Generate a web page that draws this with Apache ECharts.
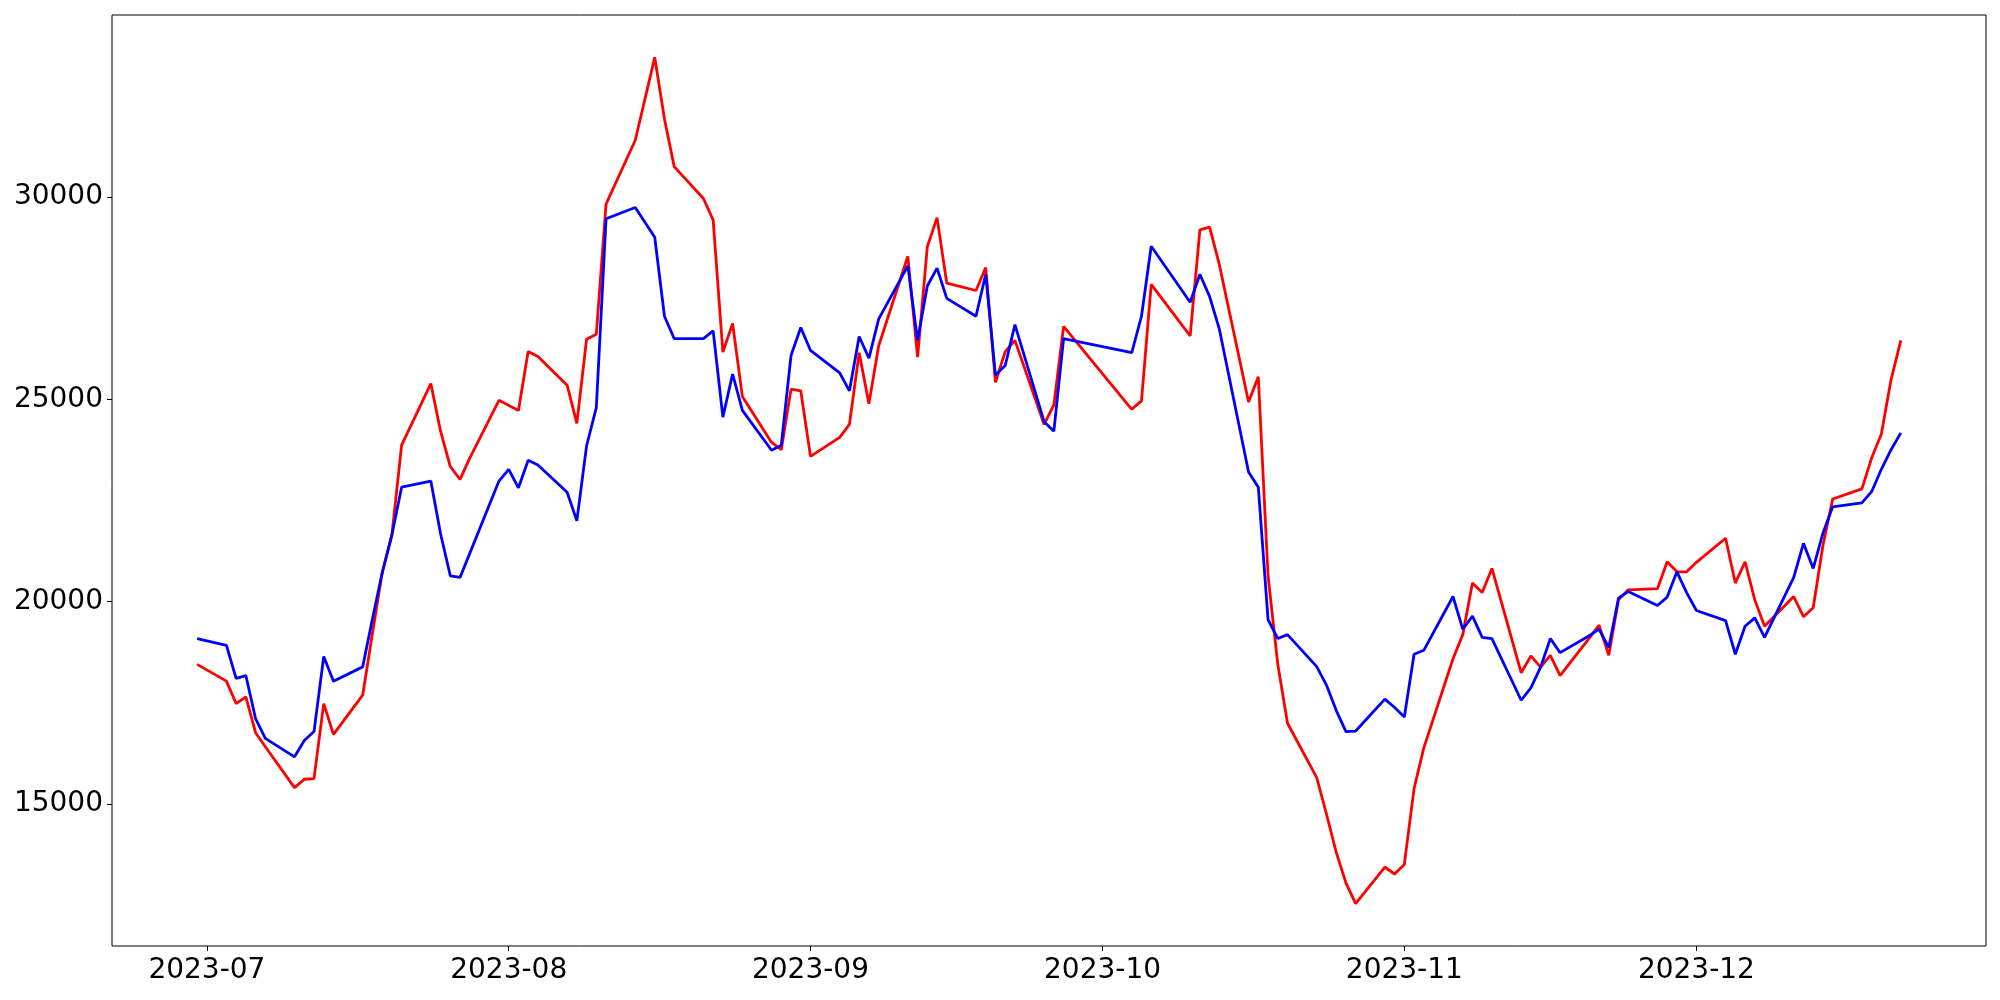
<!DOCTYPE html>
<html><head><meta charset="utf-8">
<script src="https://cdn.jsdelivr.net/npm/echarts@6/dist/echarts.min.js"></script>
<style>html,body{margin:0;padding:0;background:#fff}#c{width:2000px;height:1000px}</style>
</head><body><div id="c"></div>
<script>
// Trading days (Korean market calendar, 2023)
const dates = [
'2023-06-30',
'2023-07-03','2023-07-04','2023-07-05','2023-07-06','2023-07-07',
'2023-07-10','2023-07-11','2023-07-12','2023-07-13','2023-07-14',
'2023-07-17','2023-07-18','2023-07-19','2023-07-20','2023-07-21',
'2023-07-24','2023-07-25','2023-07-26','2023-07-27','2023-07-28',
'2023-07-31','2023-08-01','2023-08-02','2023-08-03','2023-08-04',
'2023-08-07','2023-08-08','2023-08-09','2023-08-10','2023-08-11',
'2023-08-14','2023-08-16','2023-08-17','2023-08-18',
'2023-08-21','2023-08-22','2023-08-23','2023-08-24','2023-08-25',
'2023-08-28','2023-08-29','2023-08-30','2023-08-31','2023-09-01',
'2023-09-04','2023-09-05','2023-09-06','2023-09-07','2023-09-08',
'2023-09-11','2023-09-12','2023-09-13','2023-09-14','2023-09-15',
'2023-09-18','2023-09-19','2023-09-20','2023-09-21','2023-09-22',
'2023-09-25','2023-09-26','2023-09-27',
'2023-10-04','2023-10-05','2023-10-06',
'2023-10-10','2023-10-11','2023-10-12','2023-10-13',
'2023-10-16','2023-10-17','2023-10-18','2023-10-19','2023-10-20',
'2023-10-23','2023-10-24','2023-10-25','2023-10-26','2023-10-27',
'2023-10-30','2023-10-31','2023-11-01','2023-11-02','2023-11-03',
'2023-11-06','2023-11-07','2023-11-08','2023-11-09','2023-11-10',
'2023-11-13','2023-11-14','2023-11-15','2023-11-16','2023-11-17',
'2023-11-20','2023-11-21','2023-11-22','2023-11-23','2023-11-24',
'2023-11-27','2023-11-28','2023-11-29','2023-11-30','2023-12-01',
'2023-12-04','2023-12-05','2023-12-06','2023-12-07','2023-12-08',
'2023-12-11','2023-12-12','2023-12-13','2023-12-14','2023-12-15',
'2023-12-18','2023-12-19','2023-12-20','2023-12-21','2023-12-22'
];

const redValues = [
18452,
18037,17483,17649,16762,16416,
15404,15612,15626,17483,16720,
17690,19215,20711,21653,23870,
25394,24216,23343,23025,23551,
24979,24854,24729,26184,26060,
25353,24410,26489,26613,29828,
31408,33458,31934,30756,
29967,29440,26170,26877,25075,
23939,23759,25256,25214,23593,
24064,24383,26156,24895,26323,
28540,26045,28775,29496,27874,
27694,28262,25422,26184,26461,
24383,24868,26808,
24757,24965,27847,
26572,29191,29260,28332,
24937,25560,20642,18453,16997,
15653,14753,13811,13049,12536,
13437,13270,13506,15380,16388,
18591,19187,20462,20226,20822,
18245,18660,18383,18674,18175,
19100,19422,18674,20046,20295,
20323,20988,20739,20739,20974,
21570,20462,20988,20046,19394,
20129,19630,19852,21390,22540,
22789,23551,24147,25491,26461
];

const blueValues = [
19090,
18924,18106,18175,17109,16624,
16166,16568,16790,18647,18037,
18390,19575,20711,21653,22831,
22983,21681,20642,20600,21196,
22983,23274,22817,23496,23380,
22706,22000,23856,24798,29468,
29745,29011,27057,26503,
26503,26697,24563,25630,24729,
23745,23870,26087,26780,26212,
25658,25214,26558,26018,26988,
28304,26461,27805,28248,27500,
27057,28096,25602,25838,26849,
24452,24216,26503,
26156,27057,28789,
27403,28096,27542,26738,
23205,22831,19561,19090,19187,
18397,17940,17316,16790,16803,
17593,17385,17150,18702,18799,
20129,19325,19644,19118,19090,
17565,17870,18383,19090,18743,
19160,19325,18868,20087,20254,
19907,20115,20739,20226,19783,
19533,18702,19394,19602,19118,
20600,21445,20822,21694,22346,
22443,22720,23274,23759,24175
];

const yTicks = [15000, 20000, 25000, 30000];
const xTicks = ['2023-07-01','2023-08-01','2023-09-01','2023-10-01','2023-11-01','2023-12-01'];

const ts = dates.map(d => Date.parse(d + 'T00:00:00Z'));
const xTickTs = xTicks.map(d => Date.parse(d + 'T00:00:00Z'));

const allVals = redValues.concat(blueValues);
const vMin = Math.min(...allVals), vMax = Math.max(...allVals);
const vPad = (vMax - vMin) * 0.05;
const tMin = ts[0], tMax = ts[ts.length - 1];
const tPad = (tMax - tMin) * 0.05;

const redData = ts.map((t, i) => [t, redValues[i]]);
const blueData = ts.map((t, i) => [t, blueValues[i]]);

const FONT = 'DejaVu Sans';
const chart = echarts.init(document.getElementById('c'), null, {renderer: 'canvas'});
chart.setOption({
  animation: false,
  backgroundColor: '#ffffff',
  grid: {left: 112, right: 14, top: 15, bottom: 54, show: true, borderColor: '#000', borderWidth: 1, backgroundColor: 'transparent'},
  xAxis: {
    type: 'value',
    min: tMin - tPad,
    max: tMax + tPad,
    splitLine: {show: false},
    axisLine: {show: false},
    axisTick: {show: true, length: 5, lineStyle: {color: '#000', width: 1}, customValues: xTickTs},
    axisLabel: {
      customValues: xTickTs,
      color: '#000', fontFamily: FONT, fontSize: 28, margin: 11,
      formatter: function (v) {
        const d = new Date(v);
        const m = d.getUTCMonth() + 1;
        return d.getUTCFullYear() + '-' + (m < 10 ? '0' + m : m);
      }
    }
  },
  yAxis: {
    type: 'value',
    min: vMin - vPad,
    max: vMax + vPad,
    splitLine: {show: false},
    axisLine: {show: false},
    axisTick: {show: true, length: 5, lineStyle: {color: '#000', width: 1}, customValues: yTicks},
    axisLabel: {customValues: yTicks, color: '#000', fontFamily: FONT, fontSize: 28, margin: 9,
      formatter: v => String(v)}
  },
  series: [
    {type: 'line', data: redData, showSymbol: false, lineStyle: {color: '#ff0000', width: 2.8}, itemStyle: {color: '#ff0000'}, z: 2},
    {type: 'line', data: blueData, showSymbol: false, lineStyle: {color: '#0000ff', width: 2.8}, itemStyle: {color: '#0000ff'}, z: 3}
  ]
});
</script>
</body></html>
